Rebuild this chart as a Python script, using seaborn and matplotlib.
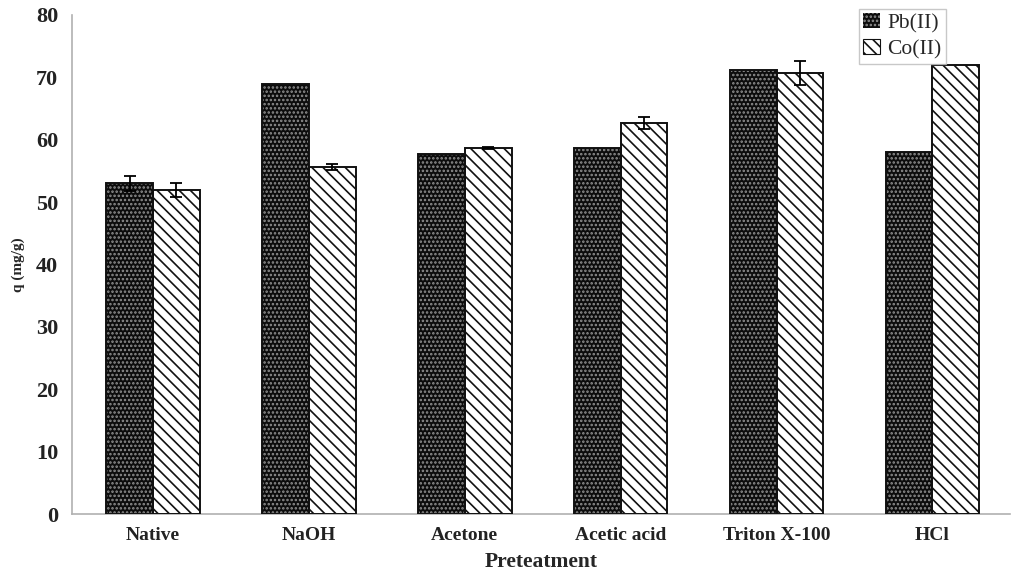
import numpy as np
import pandas as pd
import matplotlib
matplotlib.use("Agg")
import matplotlib.pyplot as plt
import seaborn as sns
from matplotlib.patches import Rectangle

# Sorption capacity of each pretreated biomass
treatments = ["Native", "NaOH", "Acetone", "Acetic acid", "Triton X-100", "HCl"]
metals = ["Pb(II)", "Co(II)"]
pb_q = [53.0, 68.9, 57.7, 58.7, 71.1, 58.1]
co_q = [51.9, 55.6, 58.7, 62.7, 70.7, 72.0]
pb_err = [1.2, 0.0, 0.0, 0.0, 0.0, 0.0]
co_err = [1.1, 0.5, 0.2, 1.0, 1.9, 0.0]
y_ticks = [0, 10, 20, 30, 40, 50, 60, 70, 80]

df = pd.DataFrame({
    "Preteatment": treatments * 2,
    "Metal": [metals[0]] * len(treatments) + [metals[1]] * len(treatments),
    "q": pb_q + co_q,
})

sns.set_style("white")
plt.rcParams["font.family"] = ["Liberation Serif", "DejaVu Serif"]
plt.rcParams["hatch.linewidth"] = 1.2

fig = plt.figure(figsize=(10.2, 5.7), dpi=100)
ax = fig.add_axes([0.0706, 0.098, 0.92, 0.876])

sns.barplot(data=df, x="Preteatment", y="q", hue="Metal", order=treatments,
            hue_order=metals, width=0.6, errorbar=None, ax=ax,
            palette=["#111111", "white"], saturation=1, legend=False)

styles = [
    dict(face="#0c0c0c", hatch_col="#909090", hatch="...."),
    dict(face="white", hatch_col="#111111", hatch="\\\\\\"),
]
errs = [pb_err, co_err]
for cont, st, err in zip(ax.containers, styles, errs):
    for patch, e in zip(cont.patches, err):
        patch.set_facecolor(st["face"])
        patch.set_edgecolor(st["hatch_col"])
        patch.set_hatch(st["hatch"])
        patch.set_linewidth(0)
        x0, y0 = patch.get_xy()
        w, h = patch.get_width(), patch.get_height()
        ax.add_patch(Rectangle((x0, y0), w, h, fill=False, edgecolor="#111111",
                               linewidth=1.4, zorder=3))
        if e > 0:
            ax.errorbar(x0 + w / 2, h, yerr=e, color="black", capsize=4,
                        elinewidth=1.3, capthick=1.3, zorder=4)

ax.set_xlim(-0.52, 5.5)
ax.set_ylim(0, 80)
ax.set_yticks(y_ticks)
ax.set_yticklabels([str(t) for t in y_ticks], fontsize=16, fontweight="bold")
ax.set_xticks(range(len(treatments)))
ax.set_xticklabels(treatments, fontsize=14, fontweight="bold")
ax.set_xticks(np.arange(0.5, len(treatments) - 0.5, 1.0), minor=True)
ax.tick_params(axis="x", which="major", length=0, pad=9)
ax.tick_params(axis="x", which="minor", length=4, color="#aaaaaa", direction="out")
ax.tick_params(axis="y", length=5, color="#aaaaaa", direction="out", pad=5)
ax.tick_params(axis="both", labelcolor="#222222")

for side in ["top", "right"]:
    ax.spines[side].set_visible(False)
for side in ["left", "bottom"]:
    ax.spines[side].set_color("#b0b0b0")
    ax.spines[side].set_linewidth(1.2)

ax.set_xlabel("Preteatment", fontsize=15.5, fontweight="bold", labelpad=6)
ax.set_ylabel("q (mg/g)", fontsize=11, fontweight="bold", labelpad=8)

handles = [
    Rectangle((0, 0), 1, 1, facecolor=styles[0]["face"], edgecolor=styles[0]["hatch_col"],
              hatch=styles[0]["hatch"], linewidth=0),
    Rectangle((0, 0), 1, 1, facecolor=styles[1]["face"], edgecolor=styles[1]["hatch_col"],
              hatch=styles[1]["hatch"], linewidth=0.8),
]
leg = ax.legend(handles, metals, loc="upper right", bbox_to_anchor=(0.931, 1.012),
                frameon=True, fancybox=False, handlelength=0.75,
                handleheight=0.7, handletextpad=0.35, borderpad=0.2, labelspacing=0.28,
                borderaxespad=0, prop={"weight": "normal", "size": 15.5})
leg.get_frame().set_edgecolor("#bbbbbb")
leg.get_frame().set_linewidth(1.0)

fig.savefig("out.png", dpi=100)
